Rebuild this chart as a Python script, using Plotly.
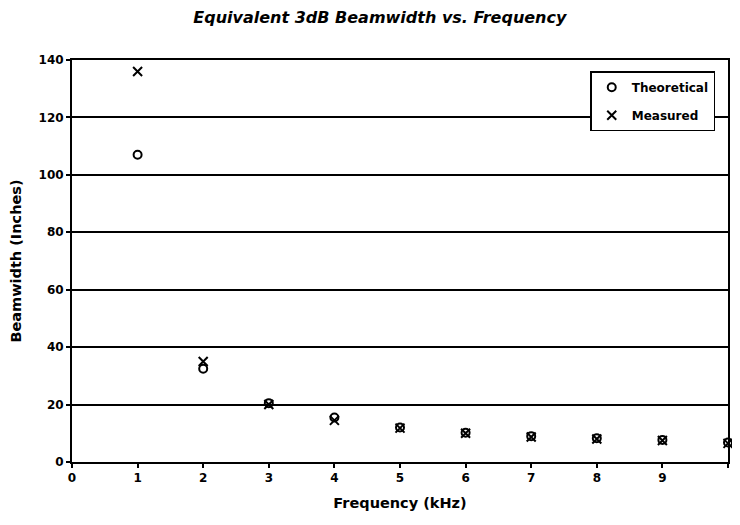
import plotly.graph_objects as go

frequency_khz = [1, 2, 3, 4, 5, 6, 7, 8, 9, 10]
theoretical = [107, 32.5, 20.5, 15.5, 12, 10.2, 9, 8.3, 7.7, 6.8]
measured = [136, 35, 20, 14.5, 11.8, 10, 8.7, 8, 7.5, 6.5]

x_ticks = list(range(0, 11))
y_ticks = list(range(0, 141, 20))

font_family = "DejaVu Sans, Verdana, sans-serif"

fig = go.Figure()
fig.add_trace(go.Scatter(
    x=frequency_khz, y=theoretical, mode="markers", name="<b>Theoretical</b>",
    legendgroup="theo",
    marker=dict(symbol="circle-open", size=8, color="black", line=dict(width=2)),
    cliponaxis=False,
))
fig.add_trace(go.Scatter(
    x=frequency_khz, y=measured, mode="markers", name="<b>Measured</b>",
    legendgroup="meas",
    marker=dict(symbol="x-thin-open", size=9, color="black", line=dict(width=2)),
    cliponaxis=False,
))

# The page body has an 8px default margin, so the figure is sized to fit.
fig.update_layout(
    width=732, height=503,
    paper_bgcolor="white", plot_bgcolor="white",
    margin=dict(l=64, r=12, t=52, b=49, autoexpand=False),
    title=dict(text="<b><i>Equivalent 3dB Beamwidth vs. Frequency</i></b>",
               x=0.508, xanchor="center", y=0.981, yanchor="middle",
               font=dict(family=font_family, size=16, color="black")),
    font=dict(family=font_family, color="black"),
    showlegend=True,
    legend=dict(x=0.79, y=0.972, xanchor="left", yanchor="top",
                bgcolor="white", bordercolor="black", borderwidth=1.5,
                font=dict(size=12, family=font_family, color="black"),
                itemwidth=30, tracegroupgap=9, entrywidth=104),
)
x_ticktext = [f"<b>{v}</b>" for v in x_ticks]
x_ticktext[-1] = x_ticktext[-1] + "&nbsp;&nbsp;&nbsp;"  # keep the last label inside the window
fig.update_xaxes(
    range=[0, 10], tickvals=x_ticks, ticktext=x_ticktext,
    showgrid=False, showline=True, linecolor="black", linewidth=2, mirror=True,
    ticks="outside", ticklen=4, tickcolor="black", tickwidth=1.5,
    tickfont=dict(size=12), zeroline=False, automargin=False,
    title=dict(text="<b>Frequency (kHz)</b>", font=dict(size=14.5), standoff=14),
)
fig.update_yaxes(
    range=[0, 140], tickvals=y_ticks, ticktext=[f"<b>{v}</b>" for v in y_ticks],
    showgrid=True, gridcolor="black", gridwidth=2,
    showline=True, linecolor="black", linewidth=2, mirror=True,
    ticks="outside", ticklen=4, tickcolor="black", tickwidth=1.5,
    tickfont=dict(size=12), zeroline=False, automargin=False,
    title=dict(text="<b>Beamwidth (Inches)</b>", font=dict(size=14.5), standoff=14),
)

fig.write_html("out.html")
